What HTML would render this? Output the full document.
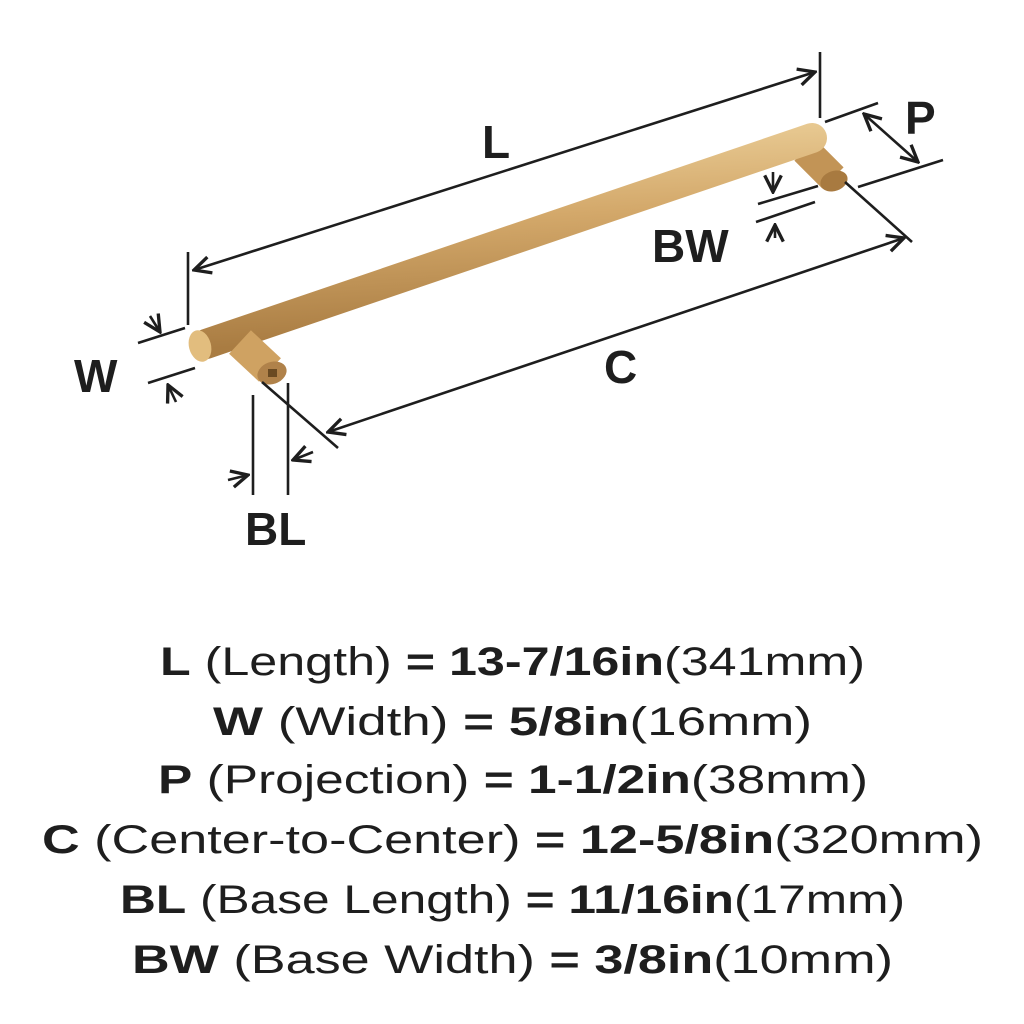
<!DOCTYPE html>
<html><head><meta charset="utf-8"><style>
html,body{margin:0;padding:0;background:#fff;}
svg{display:block;}
text{font-family:"Liberation Sans",sans-serif;fill:#1e1e1e;}
</style></head><body>
<svg width="1024" height="1024" viewBox="0 0 1024 1024" xmlns="http://www.w3.org/2000/svg">
<defs>
<linearGradient id="g" x1="0" y1="0" x2="0.15" y2="1">
<stop offset="0" stop-color="#ecd09a"/><stop offset="0.45" stop-color="#d3a86a"/><stop offset="1" stop-color="#a97c42"/>
</linearGradient>
<marker id="a" viewBox="0 0 10 10" refX="9" refY="5" markerWidth="8" markerHeight="8" orient="auto-start-reverse">
<path d="M1,1 L9,5 L1,9" fill="none" stroke="#1e1e1e" stroke-width="1.6"/>
</marker>
</defs>
<g>
<line x1="805" y1="150" x2="833" y2="178" stroke="#c29456" stroke-width="30" stroke-linecap="butt"/>
<ellipse cx="834" cy="181" rx="14" ry="10" fill="#a87a40" transform="rotate(-20 834 181)"/>
<line x1="206" y1="344" x2="812" y2="138" stroke="url(#g)" stroke-width="30" stroke-linecap="round"/>
<ellipse cx="200" cy="346" rx="11" ry="16" fill="#e2bd7e" transform="rotate(-15 200 346)"/>
<line x1="240" y1="342" x2="270" y2="370" stroke="#cfa262" stroke-width="32"/>
<ellipse cx="272" cy="373" rx="15" ry="11" fill="#b0824a" transform="rotate(-20 272 373)"/>
<rect x="268" y="369" width="9" height="8" fill="#6a4a22"/>
</g>
<g stroke="#1e1e1e" stroke-width="2.6" fill="none">
<line x1="188" y1="252" x2="188" y2="325"/>
<line x1="820" y1="52" x2="820" y2="118"/>
<line x1="194" y1="270" x2="815" y2="72" marker-start="url(#a)" marker-end="url(#a)"/>
<line x1="138" y1="343" x2="185" y2="328"/>
<line x1="148" y1="383" x2="195" y2="368"/>
<line x1="150" y1="316" x2="160" y2="332" marker-end="url(#a)"/>
<line x1="176" y1="402" x2="168" y2="385" marker-end="url(#a)"/>
<line x1="253" y1="395" x2="253" y2="495"/>
<line x1="288" y1="383" x2="288" y2="495"/>
<line x1="228" y1="480" x2="248" y2="475" marker-end="url(#a)"/>
<line x1="313" y1="452" x2="293" y2="460" marker-end="url(#a)"/>
<line x1="262" y1="382" x2="338" y2="448"/>
<line x1="845" y1="182" x2="912" y2="242"/>
<line x1="328" y1="432" x2="904" y2="238" marker-start="url(#a)" marker-end="url(#a)"/>
<line x1="825" y1="122" x2="878" y2="103"/>
<line x1="858" y1="187" x2="943" y2="160"/>
<line x1="864" y1="114" x2="918" y2="162" marker-start="url(#a)" marker-end="url(#a)"/>
<line x1="758" y1="204" x2="818" y2="186"/>
<line x1="756" y1="222" x2="815" y2="202"/>
<line x1="773" y1="172" x2="773" y2="192" marker-end="url(#a)"/>
<line x1="775" y1="238" x2="775" y2="225" marker-end="url(#a)"/>
</g>
<g font-size="46" font-weight="bold">
<text x="482" y="158">L</text>
<text x="74" y="392">W</text>
<text x="245" y="545">BL</text>
<text x="604" y="383">C</text>
<text x="905" y="134">P</text>
<text x="652" y="262">BW</text>
</g>
<g font-size="40">
<text x="160" y="675" textLength="705" lengthAdjust="spacingAndGlyphs"><tspan font-weight="bold">L</tspan> (Length) <tspan font-weight="bold">= 13-7/16in</tspan>(341mm)</text>
<text x="213" y="735" textLength="599" lengthAdjust="spacingAndGlyphs"><tspan font-weight="bold">W</tspan> (Width) <tspan font-weight="bold">= 5/8in</tspan>(16mm)</text>
<text x="158" y="793" textLength="710" lengthAdjust="spacingAndGlyphs"><tspan font-weight="bold">P</tspan> (Projection) <tspan font-weight="bold">= 1-1/2in</tspan>(38mm)</text>
<text x="42" y="853" textLength="941" lengthAdjust="spacingAndGlyphs"><tspan font-weight="bold">C</tspan> (Center-to-Center) <tspan font-weight="bold">= 12-5/8in</tspan>(320mm)</text>
<text x="120" y="913" textLength="785" lengthAdjust="spacingAndGlyphs"><tspan font-weight="bold">BL</tspan> (Base Length) <tspan font-weight="bold">= 11/16in</tspan>(17mm)</text>
<text x="132" y="973" textLength="761" lengthAdjust="spacingAndGlyphs"><tspan font-weight="bold">BW</tspan> (Base Width) <tspan font-weight="bold">= 3/8in</tspan>(10mm)</text>
</g>
</svg>
</body></html>
